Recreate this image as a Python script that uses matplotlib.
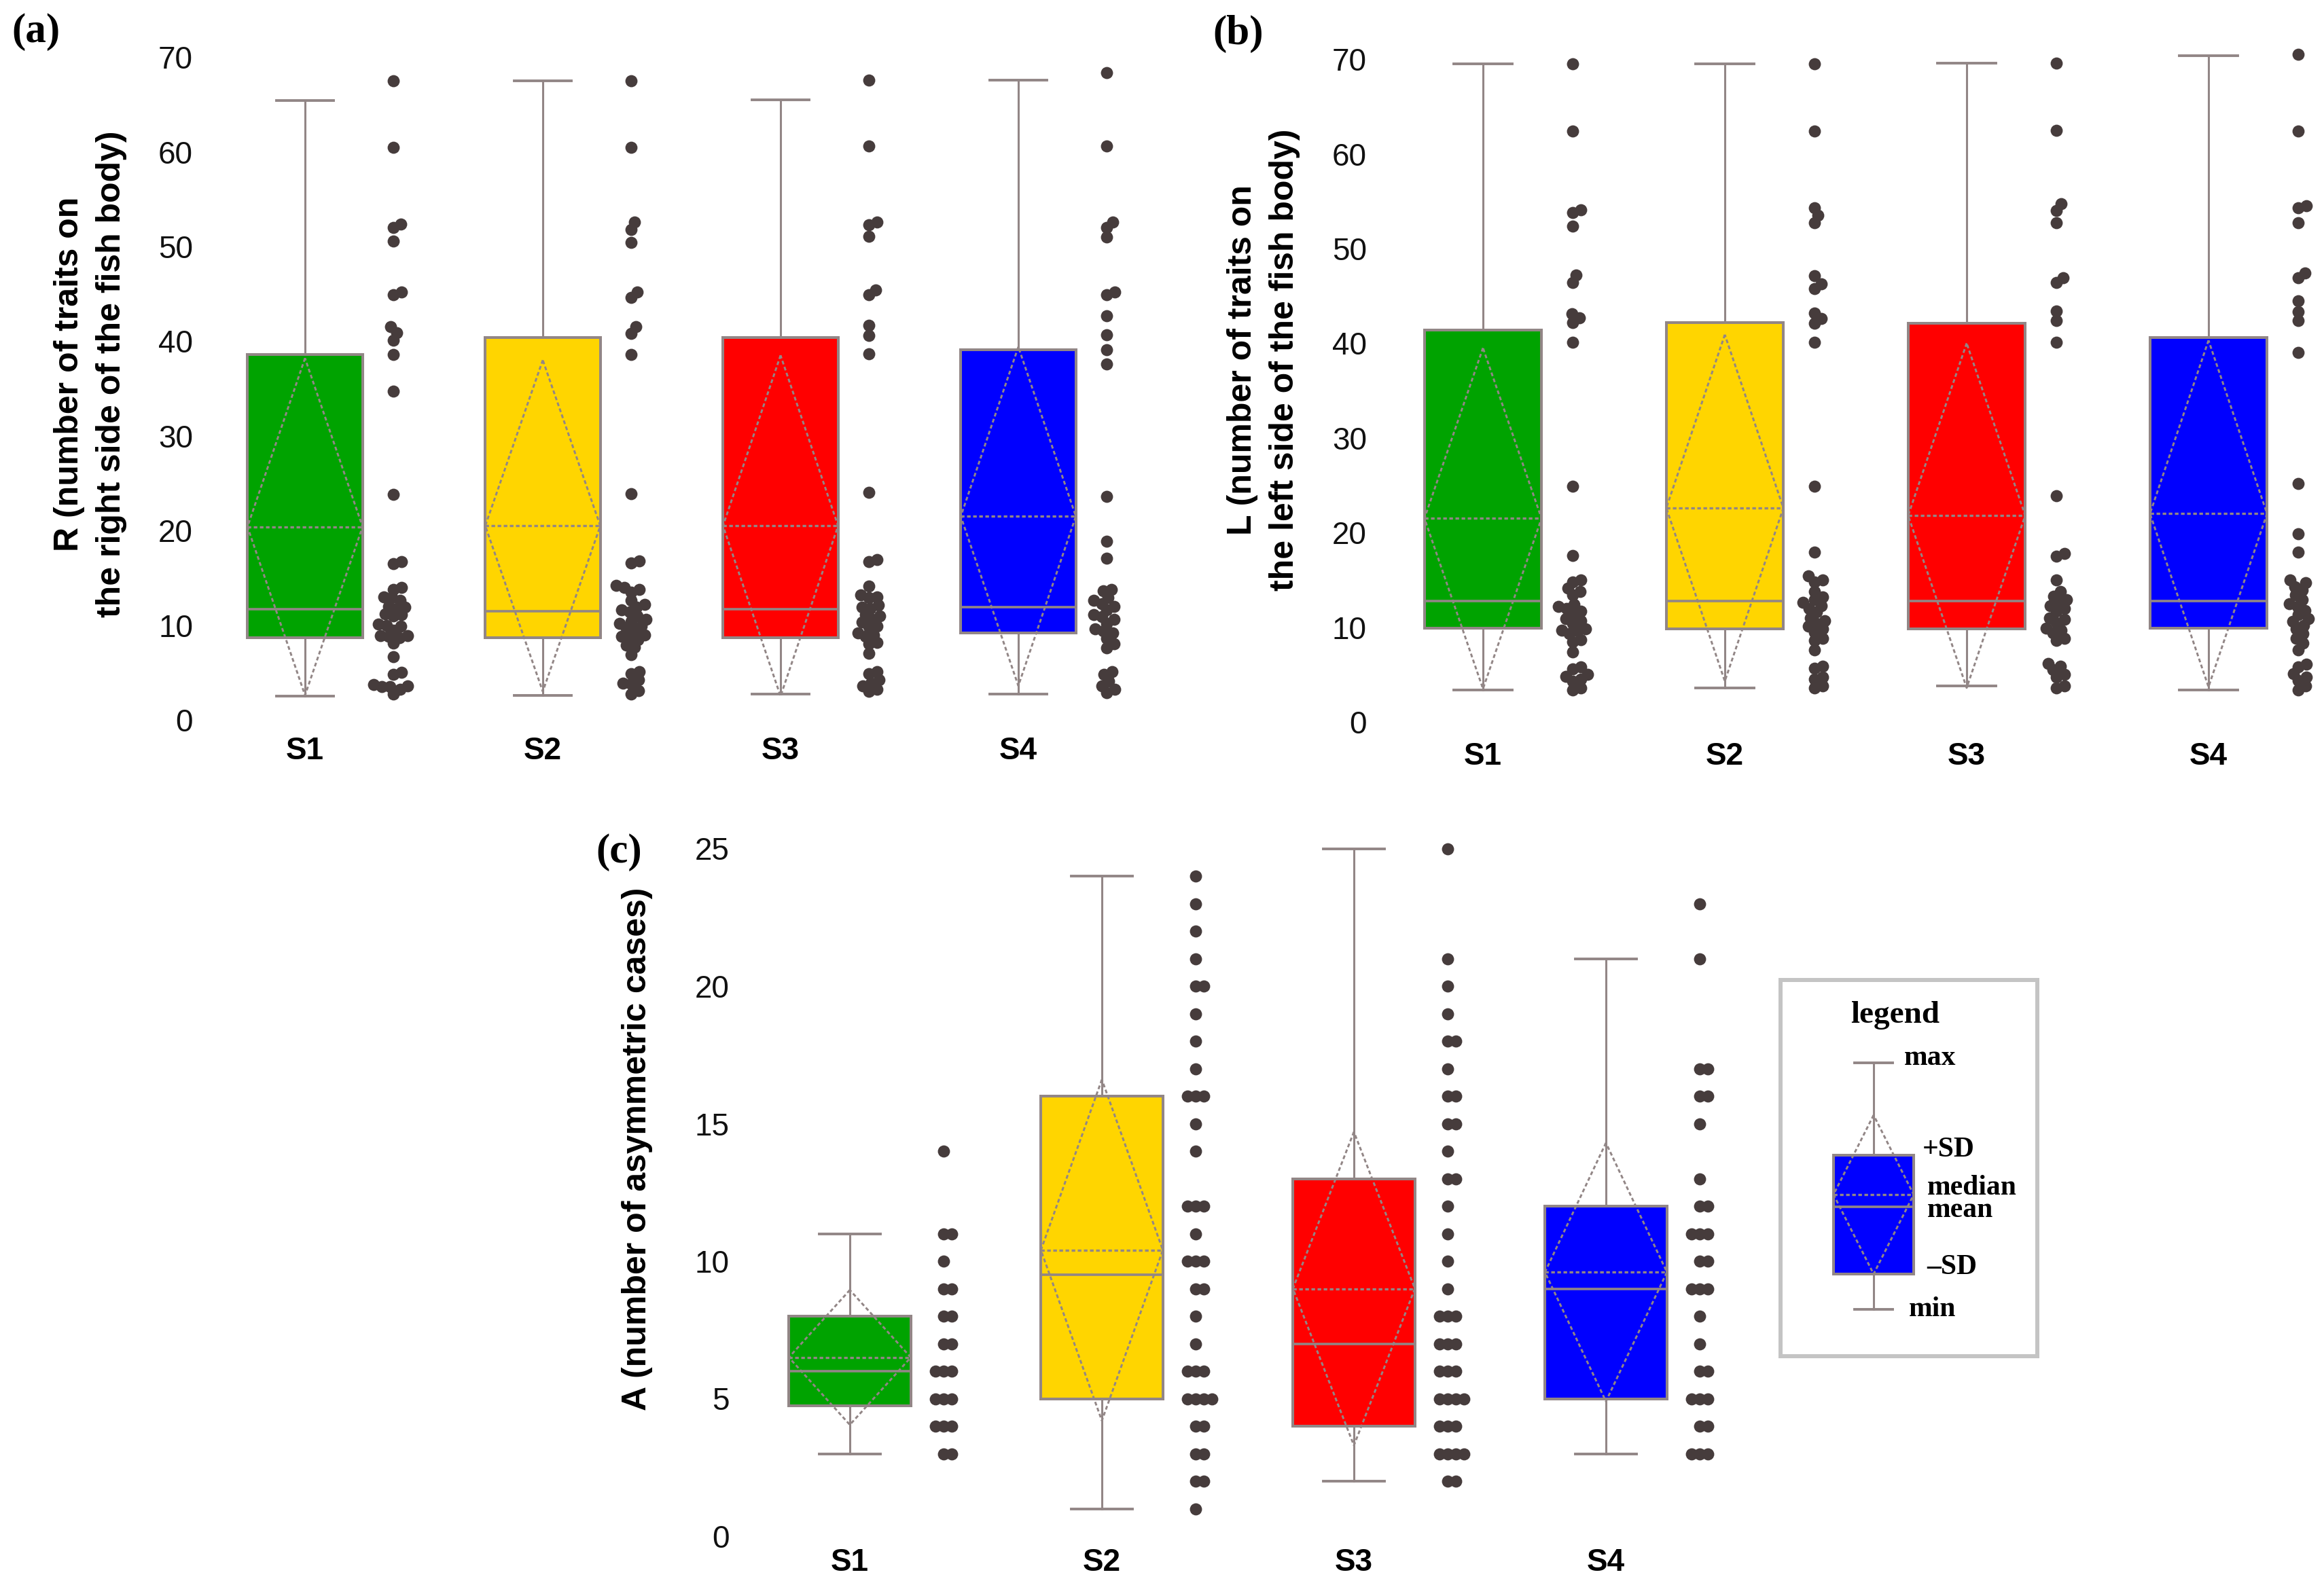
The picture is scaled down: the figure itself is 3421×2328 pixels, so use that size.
import numpy as np
import matplotlib.pyplot as plt
from matplotlib.patches import Rectangle

plt.rcParams["font.family"] = ["Liberation Sans", "DejaVu Sans"]

W, H = 3421, 2328
SERIF = ["Liberation Serif", "DejaVu Serif"]

groups = ["S1", "S2", "S3", "S4"]
colors = ["#00a300", "#ffd500", "#ff0000", "#0000ff"]

# summary statistics: min, Q1, median, mean, SD, Q3, max
r_min = [2.5, 2.6, 2.7, 2.7]
r_q1 = [8.7, 8.7, 8.7, 9.2]
r_med = [11.7, 11.5, 11.7, 11.9]
r_mean = [20.4, 20.5, 20.5, 21.5]
r_sd = [17.8, 17.5, 18.0, 17.9]
r_q3 = [38.6, 40.4, 40.4, 39.1]
r_max = [65.4, 67.5, 65.5, 67.6]

l_min = [3.4, 3.6, 3.8, 3.4]
l_q1 = [9.9, 9.8, 9.8, 9.9]
l_med = [12.8, 12.8, 12.8, 12.8]
l_mean = [21.5, 22.6, 21.8, 22.0]
l_sd = [18.0, 18.3, 18.2, 18.3]
l_q3 = [41.4, 42.2, 42.1, 40.6]
l_max = [69.5, 69.5, 69.6, 70.4]

a_min = [3, 1, 2, 3]
a_q1 = [4.75, 5, 4, 5]
a_med = [6, 9.5, 7, 9]
a_mean = [6.5, 10.4, 9.0, 9.6]
a_sd = [2.45, 6.2, 5.7, 4.7]
a_q3 = [8, 16, 13, 12]
a_max = [11, 24, 25, 21]

# individual observations
r_s1 = [67.5, 60.5, 52.4, 52.0, 50.6, 45.2, 44.9, 41.5, 40.9, 40.1, 38.6, 34.7, 23.8, 16.7, 16.5,
        14.0, 13.8, 13.0, 12.9, 12.6, 12.0, 11.9, 11.8, 11.2, 11.1, 11.0, 10.1, 10.0, 9.9, 9.5,
        8.9, 8.9, 8.8, 8.7, 8.1, 6.7, 5.0, 4.8, 3.7, 3.6, 3.5, 3.5, 3.2, 2.7]
r_s2 = [67.5, 60.5, 52.6, 51.8, 50.4, 45.2, 44.6, 41.5, 40.8, 38.6, 23.9, 16.8, 16.6, 14.2, 14.0,
        13.8, 13.5, 12.6, 12.2, 11.9, 11.6, 11.4, 11.0, 10.6, 10.4, 10.2, 9.9, 9.7, 9.4, 9.0,
        8.8, 8.7, 8.5, 7.9, 7.7, 6.9, 5.1, 4.9, 4.2, 3.9, 3.8, 3.1, 2.7]
r_s3 = [67.6, 60.6, 52.6, 52.3, 51.1, 45.4, 44.9, 41.7, 40.6, 38.7, 24.0, 16.9, 16.7, 14.1, 13.2,
        13.0, 12.9, 12.1, 11.9, 11.8, 11.1, 11.0, 10.6, 10.3, 9.9, 9.8, 9.2, 9.0, 8.8, 8.2,
        8.0, 7.0, 5.1, 4.9, 4.2, 3.9, 3.6, 3.2, 3.0]
r_s4 = [68.4, 60.6, 52.6, 52.0, 51.0, 45.2, 44.9, 42.7, 40.7, 39.1, 37.6, 23.6, 18.9, 17.1, 13.8,
        13.6, 12.9, 12.6, 12.3, 12.0, 11.6, 11.1, 10.9, 10.6, 10.2, 9.6, 9.4, 9.2, 8.6, 8.0,
        7.6, 5.1, 4.8, 4.1, 3.6, 3.2, 2.9]

l_s1 = [69.5, 62.4, 54.1, 53.8, 52.4, 47.2, 46.4, 43.1, 42.7, 42.2, 40.1, 24.9, 17.6, 15.0, 14.8,
        14.1, 13.8, 13.4, 12.4, 12.2, 12.0, 11.7, 11.4, 10.9, 10.7, 10.4, 9.8, 9.7, 9.6, 9.3,
        8.7, 8.5, 7.4, 5.8, 5.6, 5.0, 4.8, 4.5, 4.3, 3.6, 3.4]
l_s2 = [69.5, 62.4, 54.3, 53.5, 52.7, 47.1, 46.3, 45.8, 43.2, 42.6, 42.1, 40.1, 24.9, 17.9, 15.4,
        15.0, 14.8, 13.8, 13.2, 12.9, 12.6, 12.3, 12.0, 11.6, 11.0, 10.7, 10.4, 10.1, 9.8, 9.5,
        8.8, 8.6, 7.6, 5.9, 5.7, 4.7, 4.5, 3.8, 3.6]
l_s3 = [69.6, 62.5, 54.7, 54.0, 52.7, 46.9, 46.4, 43.4, 42.4, 40.1, 23.9, 17.8, 17.5, 15.0, 13.8,
        13.3, 12.9, 12.6, 12.3, 12.0, 11.7, 11.0, 10.8, 10.5, 9.9, 9.7, 9.4, 8.8, 8.6, 6.2,
        5.9, 5.5, 5.0, 4.7, 3.8, 3.6]
l_s4 = [70.5, 62.4, 54.5, 54.3, 52.7, 47.4, 46.9, 44.5, 43.3, 42.4, 39.0, 25.2, 19.9, 17.9, 15.0,
        14.7, 14.3, 13.9, 13.4, 12.9, 12.5, 12.2, 11.8, 11.3, 10.9, 10.6, 10.2, 9.8, 9.3, 8.8,
        8.3, 7.6, 6.1, 5.8, 5.1, 4.7, 4.4, 3.8, 3.4]

a_s1 = [14, 11, 11, 10, 9, 9, 8, 8, 7, 7, 6, 6, 6, 5, 5, 5, 4, 4, 4, 3, 3]
a_s2 = [24, 23, 22, 21, 20, 20, 19, 18, 17, 16, 16, 16, 15, 14, 12, 12, 12, 11, 10, 10, 10,
        9, 9, 8, 7, 6, 6, 6, 5, 5, 5, 5, 4, 4, 3, 3, 2, 2, 1]
a_s3 = [25, 21, 20, 19, 18, 18, 17, 16, 16, 15, 15, 14, 13, 13, 12, 11, 10, 9, 8, 8, 8,
        7, 7, 7, 6, 6, 6, 5, 5, 5, 5, 4, 4, 4, 3, 3, 3, 3, 2, 2]
a_s4 = [23, 21, 17, 17, 16, 16, 15, 13, 12, 12, 11, 11, 11, 10, 10, 9, 9, 9, 8, 7, 6, 6,
        5, 5, 5, 4, 4, 3, 3, 3]

LINE = "#928686"
DOT = "#463c3c"
HW, CAP, DOT_OFF = 0.242, 0.12, 0.372


def px_axes(fig, left, top, right, bottom):
    return fig.add_axes([left / W, 1 - bottom / H, (right - left) / W, (bottom - top) / H])


def swarm_offsets(values, px_per_unit, gap=12.0):
    """Simple beeswarm: pixel x offsets so dots do not pile on top of each other."""
    ys = np.asarray(values, float) * px_per_unit
    offs = np.zeros(len(ys))
    placed = []
    for i in np.argsort(ys, kind="stable"):
        y = ys[i]
        for k in range(400):
            dx = ((k + 1) // 2) * (1 if k % 2 else -1)
            if all((dx - px) ** 2 + (y - py) ** 2 >= gap ** 2 for px, py in placed):
                break
        offs[i] = dx
        placed.append((dx, y))
    return offs


def draw_group(ax, x, lo, q1, med, mean, sd, q3, hi, color, hw=HW, cap=CAP):
    ax.plot([x, x], [lo, hi], color=LINE, lw=2.2, zorder=1, clip_on=False)
    for v in (lo, hi):
        ax.plot([x - cap, x + cap], [v, v], color=LINE, lw=2.8, zorder=1, clip_on=False)
    ax.add_patch(Rectangle((x - hw, q1), 2 * hw, q3 - q1, facecolor=color,
                           edgecolor=LINE, lw=2.9, zorder=2))
    ax.plot([x - hw, x + hw], [med, med], color=LINE, lw=2.6, zorder=3)
    ax.plot([x - hw, x + hw], [mean, mean], color=LINE, lw=2.4,
            ls=(0, (1.6, 1.1)), zorder=3)
    ax.plot([x, x - hw, x, x + hw, x], [mean + sd, mean, mean - sd, mean, mean + sd],
            color=LINE, lw=2.1, ls=(0, (1.9, 1.3)), zorder=3, clip_on=False)


def draw_panel(fig, left, right, bottom_px, ppu, ymax, c0, step, stats, dots, yticks,
               ypad, xpad):
    top_px = bottom_px - ymax * ppu
    ax = px_axes(fig, left, top_px, right, bottom_px)
    ax.set_xlim((left - c0) / step, (right - c0) / step)
    ax.set_ylim(0, ymax)
    for i, vals in enumerate(dots):
        lo, q1, med, mean, sd, q3, hi = (s[i] for s in stats)
        draw_group(ax, i, lo, q1, med, mean, sd, q3, hi, colors[i])
        offs = swarm_offsets(vals, ppu)
        ax.scatter(i + DOT_OFF + offs / step, vals, s=165, color=DOT, lw=0,
                   zorder=4, clip_on=False)
    for sp in ax.spines.values():
        sp.set_visible(False)
    ax.set_yticks(yticks)
    ax.set_xticks(range(len(groups)))
    ax.set_xticklabels(groups, fontsize=33, fontweight="bold")
    ax.tick_params(axis="y", length=0, labelsize=33, pad=ypad, labelcolor="#111111")
    ax.tick_params(axis="x", length=0, pad=xpad)
    return ax


fig = plt.figure(figsize=(W / 100, H / 100), dpi=100)

draw_panel(fig, 300, 1640, 1060, 13.94, 70, 449, 350,
           [r_min, r_q1, r_med, r_mean, r_sd, r_q3, r_max],
           [r_s1, r_s2, r_s3, r_s4], range(0, 71, 10), 11.5, 17)
draw_panel(fig, 2030, 3415, 1063, 13.94, 71, 2183, 356,
           [l_min, l_q1, l_med, l_mean, l_sd, l_q3, l_max],
           [l_s1, l_s2, l_s3, l_s4], range(0, 71, 10), 13, 21)
draw_panel(fig, 1090, 2560, 2262, 40.5, 25.5, 1251, 371,
           [a_min, a_q1, a_med, a_mean, a_sd, a_q3, a_max],
           [a_s1, a_s2, a_s3, a_s4], range(0, 26, 5), 12, 12)


def ftext(x, y, s, **kw):
    fig.text(x / W, 1 - y / H, s, **kw)


ftext(17, 47, "(a)", fontsize=44, fontweight="bold", family=SERIF, ha="left", va="center")
ftext(1785, 50, "(b)", fontsize=44, fontweight="bold", family=SERIF, ha="left", va="center")
ftext(877, 1255, "(c)", fontsize=44, fontweight="bold", family=SERIF, ha="left", va="center")

ylab = dict(fontweight="bold", rotation=90, ha="center", va="center",
            multialignment="center", linespacing=1.45)
ftext(133, 551, "R (number of traits on\nthe right side of the fish body)", fontsize=36, **ylab)
ftext(1860, 530, "L (number of traits on\nthe left side of the fish body)", fontsize=36, **ylab)
ftext(938, 1692, "A (number of asymmetric cases)", fontsize=36, **ylab)

# legend panel, drawn in its own pixel coordinates
lg = px_axes(fig, 2621, 1443, 2999, 1997)
lg.set_xlim(0, 378)
lg.set_ylim(0, 554)
lg.set_xticks([])
lg.set_yticks([])
for sp in lg.spines.values():
    sp.set_color("#c4c4c4")
    sp.set_linewidth(4.3)
leg_stats = dict(lo=69, q1=121, med=220, mean=238, sd=117, q3=296, hi=432)
draw_group(lg, 137, color="#0000ff", hw=59, cap=28, **leg_stats)

ltxt = dict(fontsize=30, fontweight="bold", family=SERIF, va="center", ha="left")
lg.text(169, 502, "legend", fontsize=34, fontweight="bold", family=SERIF,
        ha="center", va="center")
lg.text(182, 439, "max", **ltxt)
lg.text(209, 304, "+SD", **ltxt)
lg.text(216, 248, "median", **ltxt)
lg.text(216, 215, "mean", **ltxt)
lg.text(215, 131, "\u2013SD", **ltxt)
lg.text(189, 69, "min", **ltxt)

fig.savefig("out.png", dpi=100)
